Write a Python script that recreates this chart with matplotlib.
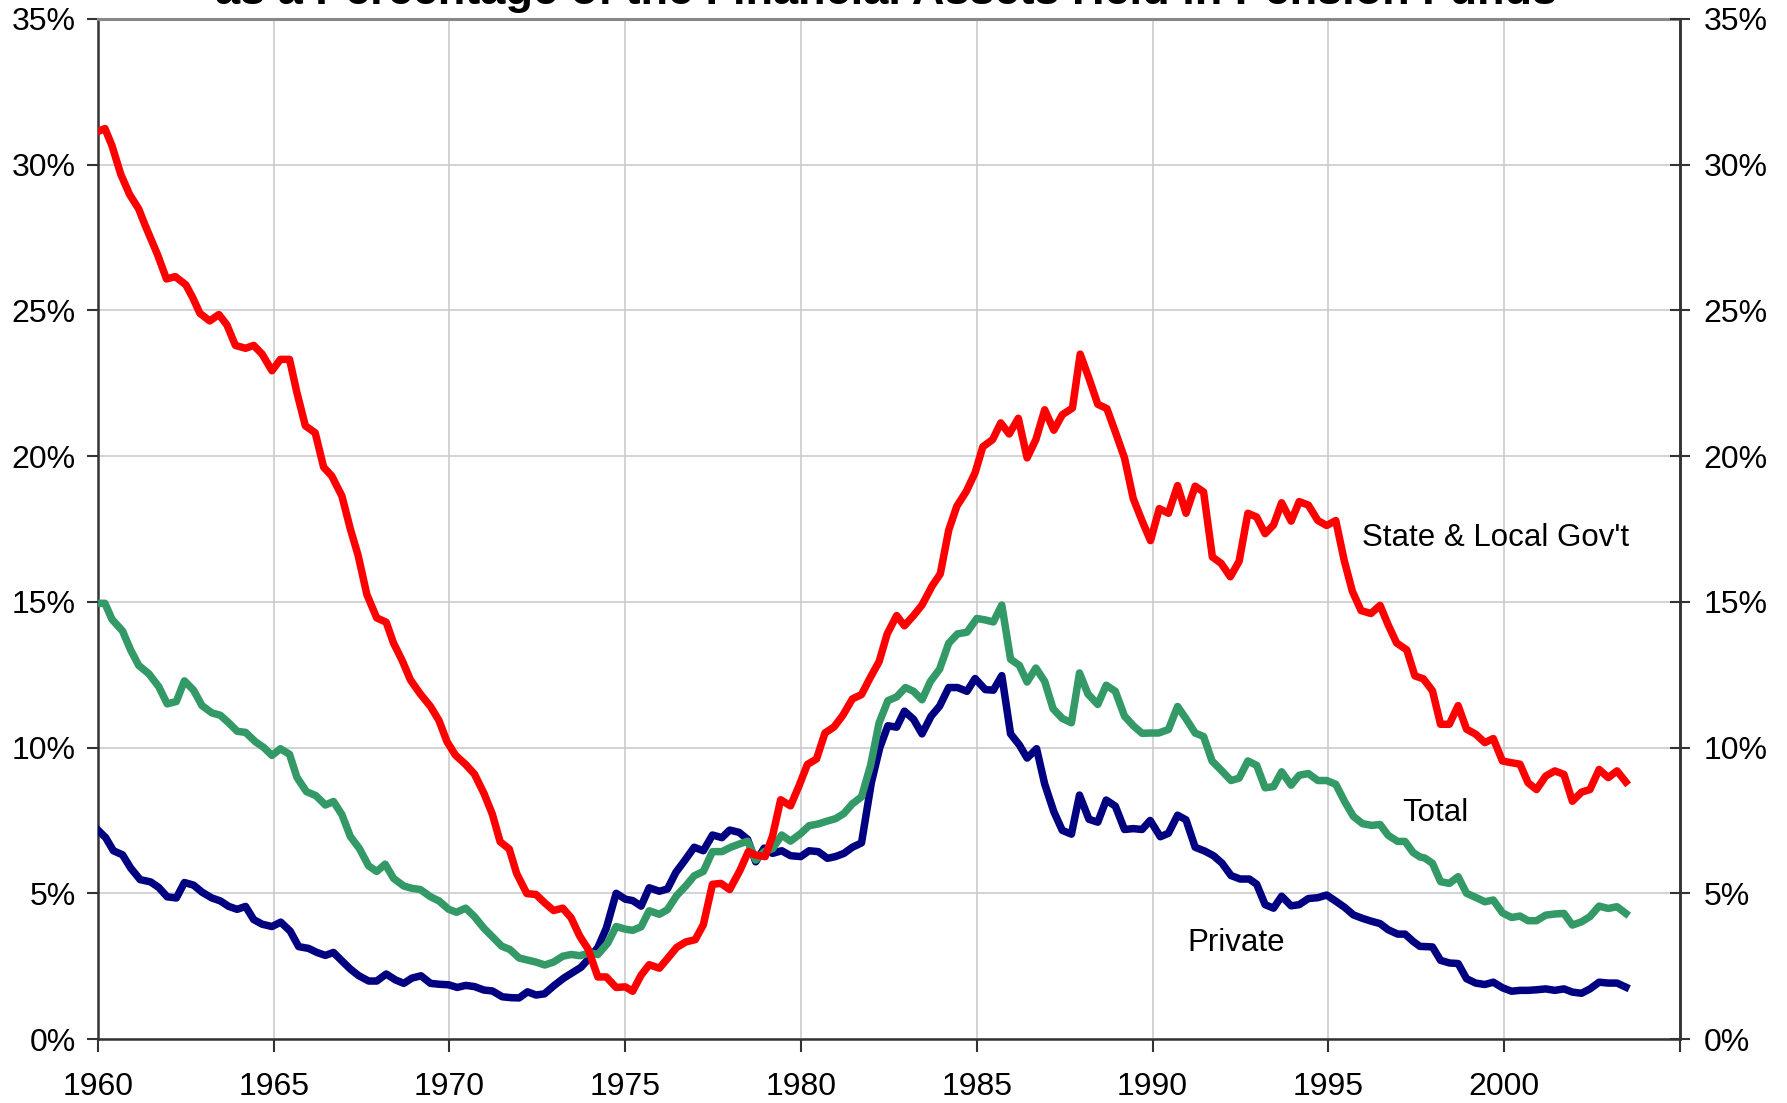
import numpy as np
import matplotlib.pyplot as plt

plt.rcParams['font.family'] = ['Liberation Sans', 'DejaVu Sans']

# State & Local Gov't (quarterly readings)
state_years = [1960.0, 1960.2, 1960.4, 1960.65, 1960.9, 1961.16, 1961.35, 1961.7, 1961.95, 1962.2,
               1962.5, 1962.7, 1962.9, 1963.18, 1963.44, 1963.67, 1963.91, 1964.2, 1964.43, 1964.67,
               1964.95, 1965.19, 1965.45, 1965.66, 1965.9, 1966.18, 1966.42, 1966.65, 1966.94, 1967.18,
               1967.4, 1967.65, 1967.93, 1968.2, 1968.41, 1968.65, 1968.89, 1969.17, 1969.46, 1969.7,
               1969.93, 1970.17, 1970.46, 1970.71, 1970.98, 1971.22, 1971.44, 1971.7, 1971.91, 1972.2,
               1972.46, 1972.71, 1972.96, 1973.22, 1973.46, 1973.7, 1973.95, 1974.22, 1974.46, 1974.74,
               1975.0, 1975.21, 1975.45, 1975.68, 1975.97, 1976.2, 1976.46, 1976.72, 1976.99, 1977.22,
               1977.48, 1977.72, 1977.97, 1978.26, 1978.5, 1978.71, 1978.98, 1979.19, 1979.42, 1979.7,
               1979.94, 1980.18, 1980.44, 1980.68, 1980.94, 1981.19, 1981.46, 1981.72, 1981.95, 1982.22,
               1982.45, 1982.72, 1982.94, 1983.2, 1983.44, 1983.73, 1983.96, 1984.2, 1984.43, 1984.7,
               1984.95, 1985.17, 1985.45, 1985.68, 1985.92, 1986.18, 1986.43, 1986.68, 1986.93, 1987.19,
               1987.43, 1987.72, 1987.94, 1988.19, 1988.44, 1988.7, 1988.94, 1989.2, 1989.45, 1989.7,
               1989.94, 1990.19, 1990.45, 1990.71, 1990.95, 1991.21, 1991.45, 1991.7, 1991.95, 1992.21,
               1992.46, 1992.71, 1992.96, 1993.2, 1993.44, 1993.67, 1993.94, 1994.17, 1994.43, 1994.7,
               1994.95, 1995.21, 1995.45, 1995.68, 1995.93, 1996.21, 1996.47, 1996.7, 1996.94, 1997.23,
               1997.46, 1997.7, 1997.96, 1998.19, 1998.44, 1998.69, 1998.93, 1999.19, 1999.45, 1999.69,
               1999.95, 2000.21, 2000.45, 2000.68, 2000.92, 2001.18, 2001.44, 2001.7, 2001.94, 2002.2,
               2002.44, 2002.7, 2002.96, 2003.21, 2003.46]
state_vals = [31.14, 31.24, 30.65, 29.67, 28.98, 28.48, 27.9, 26.9, 26.08, 26.16,
              25.88, 25.43, 24.9, 24.64, 24.86, 24.5, 23.8, 23.7, 23.8, 23.5,
              22.93, 23.32, 23.32, 22.18, 21.04, 20.8, 19.62, 19.32, 18.63, 17.5,
              16.6, 15.25, 14.45, 14.3, 13.58, 13.0, 12.32, 11.84, 11.41, 10.93,
              10.2, 9.74, 9.42, 9.09, 8.43, 7.71, 6.77, 6.52, 5.68, 4.99,
              4.96, 4.67, 4.41, 4.49, 4.16, 3.54, 3.07, 2.13, 2.13, 1.77,
              1.79, 1.64, 2.19, 2.55, 2.43, 2.76, 3.14, 3.33, 3.41, 3.92,
              5.31, 5.34, 5.13, 5.78, 6.43, 6.31, 6.26, 6.97, 8.21, 8.0,
              8.68, 9.42, 9.61, 10.5, 10.71, 11.11, 11.67, 11.82, 12.36, 12.95,
              13.9, 14.53, 14.18, 14.53, 14.89, 15.55, 15.96, 17.46, 18.28, 18.79,
              19.43, 20.32, 20.57, 21.14, 20.76, 21.3, 19.94, 20.57, 21.59, 20.89,
              21.42, 21.65, 23.5, 22.67, 21.78, 21.63, 20.83, 19.94, 18.54, 17.78,
              17.1, 18.2, 18.04, 18.99, 18.04, 18.97, 18.77, 16.54, 16.32, 15.86,
              16.39, 18.04, 17.91, 17.34, 17.64, 18.4, 17.77, 18.44, 18.32, 17.79,
              17.62, 17.79, 16.42, 15.37, 14.7, 14.6, 14.88, 14.21, 13.59, 13.35,
              12.46, 12.36, 11.95, 10.8, 10.8, 11.44, 10.63, 10.46, 10.17, 10.31,
              9.54, 9.48, 9.43, 8.79, 8.56, 9.02, 9.2, 9.08, 8.16, 8.47,
              8.56, 9.25, 8.97, 9.2, 8.82]

# Total
total_years = [1960.0, 1960.2, 1960.4, 1960.7, 1960.93, 1961.16, 1961.45, 1961.73, 1961.97, 1962.23,
               1962.46, 1962.72, 1962.96, 1963.24, 1963.48, 1963.72, 1963.96, 1964.2, 1964.48, 1964.72,
               1964.95, 1965.19, 1965.45, 1965.66, 1965.93, 1966.2, 1966.47, 1966.7, 1966.94, 1967.18,
               1967.44, 1967.7, 1967.93, 1968.17, 1968.41, 1968.7, 1968.93, 1969.17, 1969.46, 1969.7,
               1969.98, 1970.2, 1970.46, 1970.71, 1970.98, 1971.22, 1971.48, 1971.72, 1971.98, 1972.22,
               1972.46, 1972.71, 1972.96, 1973.22, 1973.46, 1973.72, 1973.98, 1974.22, 1974.5, 1974.74,
               1975.0, 1975.21, 1975.45, 1975.68, 1975.97, 1976.2, 1976.46, 1976.72, 1976.96, 1977.22,
               1977.48, 1977.75, 1978.0, 1978.24, 1978.48, 1978.71, 1978.95, 1979.19, 1979.45, 1979.7,
               1979.99, 1980.23, 1980.49, 1980.75, 1980.98, 1981.22, 1981.46, 1981.72, 1981.98, 1982.22,
               1982.47, 1982.72, 1982.97, 1983.2, 1983.44, 1983.68, 1983.94, 1984.2, 1984.45, 1984.72,
               1985.0, 1985.24, 1985.47, 1985.71, 1985.96, 1986.21, 1986.43, 1986.68, 1986.93, 1987.17,
               1987.43, 1987.69, 1987.92, 1988.16, 1988.44, 1988.68, 1988.94, 1989.2, 1989.45, 1989.7,
               1989.95, 1990.17, 1990.45, 1990.71, 1990.95, 1991.21, 1991.45, 1991.69, 1991.97, 1992.23,
               1992.46, 1992.71, 1992.96, 1993.2, 1993.44, 1993.67, 1993.94, 1994.17, 1994.43, 1994.7,
               1994.95, 1995.21, 1995.47, 1995.71, 1995.97, 1996.23, 1996.47, 1996.7, 1996.97, 1997.18,
               1997.41, 1997.6, 1997.74, 1997.96, 1998.19, 1998.44, 1998.69, 1998.93, 1999.19, 1999.45,
               1999.69, 1999.95, 2000.21, 2000.45, 2000.68, 2000.92, 2001.18, 2001.44, 2001.7, 2001.94,
               2002.2, 2002.44, 2002.7, 2002.96, 2003.21, 2003.46]
total_vals = [14.95, 14.95, 14.4, 14.0, 13.35, 12.82, 12.53, 12.09, 11.5, 11.58,
              12.29, 11.97, 11.44, 11.19, 11.11, 10.85, 10.56, 10.52, 10.2, 10.0,
              9.73, 9.96, 9.77, 8.98, 8.49, 8.35, 8.03, 8.15, 7.7, 6.95,
              6.53, 5.94, 5.75, 6.0, 5.51, 5.25, 5.17, 5.13, 4.88, 4.74,
              4.45, 4.35, 4.49, 4.2, 3.8, 3.51, 3.19, 3.07, 2.78, 2.71,
              2.64, 2.54, 2.64, 2.84, 2.9, 2.86, 2.96, 2.9, 3.29, 3.86,
              3.77, 3.73, 3.85, 4.4, 4.28, 4.44, 4.92, 5.25, 5.6, 5.75,
              6.43, 6.43, 6.58, 6.69, 6.79, 6.14, 6.43, 6.53, 7.0, 6.79,
              7.05, 7.32, 7.38, 7.48, 7.56, 7.74, 8.07, 8.31, 9.4, 10.85,
              11.61, 11.74, 12.06, 11.93, 11.64, 12.27, 12.69, 13.58, 13.9, 13.96,
              14.43, 14.38, 14.31, 14.89, 13.03, 12.82, 12.25, 12.73, 12.27, 11.33,
              11.0, 10.85, 12.56, 11.84, 11.48, 12.14, 11.93, 11.08, 10.75, 10.49,
              10.5, 10.5, 10.62, 11.41, 10.99, 10.5, 10.38, 9.54, 9.2, 8.87,
              8.95, 9.54, 9.39, 8.62, 8.66, 9.17, 8.71, 9.05, 9.11, 8.87,
              8.87, 8.74, 8.13, 7.64, 7.39, 7.33, 7.36, 6.99, 6.78, 6.78,
              6.4, 6.25, 6.21, 6.03, 5.4, 5.34, 5.57, 5.0, 4.86, 4.71,
              4.77, 4.33, 4.17, 4.22, 4.06, 4.06, 4.25, 4.29, 4.31, 3.91,
              4.02, 4.2, 4.56, 4.48, 4.54, 4.31]

# Private
private_years = [1960.0, 1960.22, 1960.44, 1960.7, 1960.93, 1961.2, 1961.5, 1961.73, 1961.97, 1962.23,
                 1962.46, 1962.72, 1962.96, 1963.24, 1963.48, 1963.72, 1963.96, 1964.2, 1964.43, 1964.67,
                 1964.95, 1965.2, 1965.47, 1965.71, 1965.99, 1966.23, 1966.47, 1966.7, 1966.94, 1967.18,
                 1967.41, 1967.7, 1967.93, 1968.2, 1968.46, 1968.7, 1968.93, 1969.19, 1969.46, 1969.7,
                 1969.98, 1970.22, 1970.46, 1970.71, 1970.98, 1971.22, 1971.5, 1971.74, 1971.98, 1972.22,
                 1972.46, 1972.7, 1972.98, 1973.25, 1973.5, 1973.74, 1973.98, 1974.22, 1974.46, 1974.74,
                 1975.0, 1975.21, 1975.45, 1975.68, 1975.97, 1976.2, 1976.44, 1976.7, 1976.96, 1977.22,
                 1977.48, 1977.75, 1977.97, 1978.24, 1978.48, 1978.71, 1978.95, 1979.19, 1979.45, 1979.7,
                 1979.99, 1980.23, 1980.49, 1980.75, 1980.98, 1981.22, 1981.46, 1981.72, 1982.0, 1982.24,
                 1982.47, 1982.72, 1982.94, 1983.2, 1983.44, 1983.7, 1983.94, 1984.2, 1984.45, 1984.72,
                 1984.95, 1985.24, 1985.47, 1985.71, 1985.96, 1986.21, 1986.43, 1986.7, 1986.93, 1987.19,
                 1987.43, 1987.69, 1987.92, 1988.19, 1988.44, 1988.68, 1988.94, 1989.2, 1989.45, 1989.7,
                 1989.93, 1990.22, 1990.45, 1990.71, 1990.95, 1991.21, 1991.48, 1991.73, 1991.97, 1992.23,
                 1992.49, 1992.75, 1992.96, 1993.2, 1993.44, 1993.67, 1993.94, 1994.17, 1994.43, 1994.7,
                 1994.95, 1995.21, 1995.47, 1995.71, 1995.97, 1996.23, 1996.47, 1996.7, 1996.97, 1997.18,
                 1997.41, 1997.6, 1997.96, 1998.19, 1998.44, 1998.69, 1998.93, 1999.19, 1999.45, 1999.69,
                 1999.95, 2000.21, 2000.45, 2000.68, 2000.92, 2001.18, 2001.44, 2001.7, 2001.94, 2002.2,
                 2002.44, 2002.7, 2002.96, 2003.21, 2003.46]
private_vals = [7.17, 6.91, 6.46, 6.32, 5.87, 5.47, 5.39, 5.2, 4.88, 4.84,
                5.37, 5.28, 5.04, 4.84, 4.74, 4.55, 4.45, 4.55, 4.1, 3.94,
                3.86, 4.01, 3.7, 3.17, 3.11, 2.97, 2.87, 2.97, 2.68, 2.4,
                2.18, 1.99, 1.99, 2.23, 2.03, 1.91, 2.09, 2.17, 1.91, 1.88,
                1.86, 1.77, 1.84, 1.8, 1.68, 1.65, 1.45, 1.42, 1.41, 1.62,
                1.51, 1.55, 1.84, 2.09, 2.28, 2.46, 2.78, 3.14, 3.8, 5.0,
                4.8, 4.75, 4.56, 5.19, 5.07, 5.15, 5.72, 6.14, 6.58, 6.46,
                7.0, 6.91, 7.17, 7.09, 6.85, 6.08, 6.55, 6.37, 6.46, 6.29,
                6.26, 6.46, 6.43, 6.2, 6.26, 6.37, 6.58, 6.73, 8.8, 10.0,
                10.75, 10.7, 11.25, 10.97, 10.47, 11.08, 11.42, 12.06, 12.06, 11.93,
                12.37, 11.99, 11.97, 12.47, 10.47, 10.09, 9.64, 9.96, 8.75, 7.8,
                7.16, 7.03, 8.37, 7.54, 7.44, 8.2, 7.99, 7.19, 7.22, 7.19,
                7.5, 6.94, 7.06, 7.68, 7.52, 6.58, 6.45, 6.29, 6.04, 5.61,
                5.49, 5.49, 5.31, 4.61, 4.49, 4.9, 4.57, 4.61, 4.82, 4.85,
                4.94, 4.73, 4.51, 4.26, 4.14, 4.04, 3.96, 3.75, 3.6, 3.6,
                3.35, 3.18, 3.16, 2.7, 2.61, 2.59, 2.07, 1.92, 1.87, 1.95,
                1.76, 1.64, 1.67, 1.67, 1.69, 1.72, 1.67, 1.72, 1.61, 1.57,
                1.72, 1.95, 1.92, 1.92, 1.78]

year_ticks = [1960, 1965, 1970, 1975, 1980, 1985, 1990, 1995, 2000, 2005]
year_labels = ['1960', '1965', '1970', '1975', '1980', '1985', '1990', '1995', '2000', '']
pct_ticks = [0, 5, 10, 15, 20, 25, 30, 35]
pct_labels = ['0%', '5%', '10%', '15%', '20%', '25%', '30%', '35%']

title = 'as a Percentage of the Financial Assets Held in Pension Funds'

fig = plt.figure(figsize=(17.87, 11.03), dpi=100)

panel = plt.axes([0.0548, 0.058, 0.8853, 0.9248])

panel.plot(private_years, private_vals, color='#000080', linewidth=5.4, solid_joinstyle='round', zorder=3)
panel.plot(total_years, total_vals, color='#339966', linewidth=5.4, solid_joinstyle='round', zorder=4)
panel.plot(state_years, state_vals, color='#FF0000', linewidth=5.4, solid_joinstyle='round', zorder=5)

panel.set_xlim(1960, 2005)
panel.set_ylim(0, 35)
panel.set_xticks(year_ticks)
panel.set_xticklabels(year_labels)
panel.set_yticks(pct_ticks)
panel.set_yticklabels(pct_labels)
panel.grid(True, color='#C8C8C8', linewidth=1.1)
panel.set_axisbelow(True)

panel.tick_params(axis='x', direction='out', length=9, width=1.5, color='#333333',
                  labelsize=23, pad=14.5)
panel.tick_params(axis='y', direction='out', length=8, width=1.5, color='#333333',
                  labelsize=23, pad=8)

for side in ['left', 'bottom', 'right']:
    panel.spines[side].set_color('#333333')
    panel.spines[side].set_linewidth(1.8)
panel.spines['top'].set_color('#888888')
panel.spines['top'].set_linewidth(2.2)

# right hand axis, same scale
right = panel.twinx()
right.set_ylim(0, 35)
right.set_yticks(pct_ticks)
right.set_yticklabels(pct_labels)
right.tick_params(axis='y', direction='inout', length=14, width=1.5, color='#333333',
                  labelsize=23, pad=10)
for side in ['left', 'bottom', 'top']:
    right.spines[side].set_visible(False)
right.spines['right'].set_color('#333333')
right.spines['right'].set_linewidth(1.8)

panel.text(1995.95, 17.2, "State & Local Gov't", fontsize=22.5, ha='left', va='center')
panel.text(1997.1, 7.75, 'Total', fontsize=22.5, ha='left', va='center')
panel.text(1991.0, 3.3, 'Private', fontsize=22.5, ha='left', va='center')

fig.text(0.496, 0.9964, title, fontsize=32.5, fontweight='bold', ha='center', va='baseline')

plt.savefig('out.png', dpi=100)
